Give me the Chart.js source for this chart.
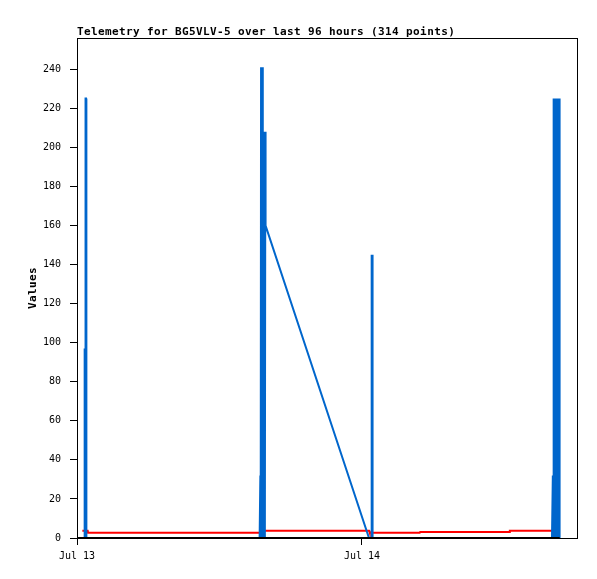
<!DOCTYPE html>
<html>
<head>
<meta charset="utf-8">
<script src="https://cdn.jsdelivr.net/npm/chart.js@4/dist/chart.umd.min.js"></script>
<style>
  html, body { margin: 0; padding: 0; background: #fff; }
  #wrap { width: 597px; height: 579px; }
</style>
</head>
<body>
<div id="wrap"><canvas id="telemetryChart"></canvas></div>
<script>
// x values are hours since Jul 13 00:00
const chartTitle = "Telemetry for BG5VLV-5 over last 96 hours (314 points)";
const yTicks = [0, 20, 40, 60, 80, 100, 120, 140, 160, 180, 200, 220, 240];
const xTickHours = [0, 24];
const xTickLabels = ["Jul 13", "Jul 14"];

// blue channel
const blueHours = [0.45, 0.60, 0.63, 0.66, 0.69, 0.72, 0.76, 0.79,
  15.38, 15.44, 15.47, 15.50, 15.54, 15.57, 15.60, 15.63, 15.66, 15.70, 15.74, 15.78, 15.82, 15.86, 15.88,
  24.59, 24.78, 24.80, 24.83, 24.86, 24.89,
  40.00, 40.07, 40.10, 40.14, 40.19, 40.24, 40.29, 40.34, 40.39, 40.44, 40.49, 40.54, 40.59, 40.63, 40.65];
const blueValues = [0, 0, 97, 97, 0, 225, 225, 0,
  0, 32, 0, 241, 0, 241, 0, 241, 0, 208, 0, 208, 0, 208, 160,
  0, 0, 145, 0, 145, 0,
  0, 32, 0, 225, 0, 225, 0, 225, 0, 225, 0, 225, 0, 225, 225];

// red channel
const redHours = [0.45, 0.90, 0.93, 15.60, 15.65, 24.60, 24.65, 28.86, 28.90, 36.40, 36.45, 40.60];
const redValues = [3.7, 3.7, 2.7, 2.7, 3.7, 3.7, 2.7, 2.7, 3.1, 3.1, 3.7, 3.7];

// black channel
const blackHours = [0, 40.65];
const blackValues = [0, 0];

const toPoints = (xs, ys) => xs.map((x, i) => ({ x: x, y: ys[i] }));

const monoFont = '"DejaVu Sans Mono", "Liberation Mono", monospace';

const framePlugin = {
  id: 'frame',
  beforeDatasetsDraw(chart) {
    const { ctx, chartArea: a } = chart;
    ctx.save();
    ctx.strokeStyle = '#000';
    ctx.lineWidth = 1;
    ctx.strokeRect(a.left + 0.5, a.top + 0.5, a.right - a.left - 1, a.bottom - a.top);
    ctx.restore();
  },
  afterDraw(chart) {
    const { ctx, chartArea: a } = chart;
    ctx.save();
    ctx.fillStyle = '#000';
    ctx.font = 'bold 11px ' + monoFont;
    try { ctx.letterSpacing = '0.38px'; } catch (e) {}
    ctx.textAlign = 'left';
    ctx.textBaseline = 'alphabetic';
    ctx.fillText(chartTitle, a.left, 35);
    ctx.translate(33, (a.top + a.bottom) / 2);
    ctx.rotate(-Math.PI / 2);
    ctx.textAlign = 'center';
    ctx.textBaseline = 'middle';
    ctx.fillText('Values', 0, 0);
    ctx.restore();
  }
};

const lineSet = (data, color, width) => ({
  data: data,
  borderColor: color,
  borderWidth: width,
  pointRadius: 0,
  tension: 0,
  fill: false
});

new Chart(document.getElementById('telemetryChart'), {
  type: 'line',
  data: {
    datasets: [
      lineSet(toPoints(blackHours, blackValues), '#000000', 2),
      lineSet(toPoints(blueHours, blueValues), '#0066cc', 2),
      lineSet(toPoints(redHours, redValues), '#ff0000', 2)
    ]
  },
  options: {
    responsive: true,
    maintainAspectRatio: false,
    animation: false,
    layout: { padding: { top: 38, right: 19, left: 0, bottom: 0 } },
    plugins: {
      legend: { display: false },
      tooltip: { enabled: false },
      title: { display: false }
    },
    scales: {
      x: {
        type: 'linear',
        min: 0,
        max: 42.19,
        afterBuildTicks: s => { s.ticks = xTickHours.map(v => ({ value: v })); },
        afterFit: s => { s.height = 41; },
        border: { display: false },
        grid: { drawOnChartArea: false, drawTicks: true, tickLength: 7, color: '#000' },
        ticks: {
          autoSkip: false,
          maxRotation: 0,
          padding: 5,
          color: '#000',
          font: { family: monoFont, size: 10 },
          callback: v => xTickLabels[xTickHours.indexOf(v)]
        }
      },
      y: {
        min: 0,
        max: 256,
        afterBuildTicks: s => { s.ticks = yTicks.map(v => ({ value: v })); },
        afterFit: s => { s.width = 77; },
        border: { display: false },
        grid: { drawOnChartArea: false, drawTicks: true, tickLength: 7, color: '#000' },
        ticks: {
          padding: 9,
          color: '#000',
          font: { family: monoFont, size: 10 }
        }
      }
    }
  },
  plugins: [framePlugin]
});
</script>
</body>
</html>
